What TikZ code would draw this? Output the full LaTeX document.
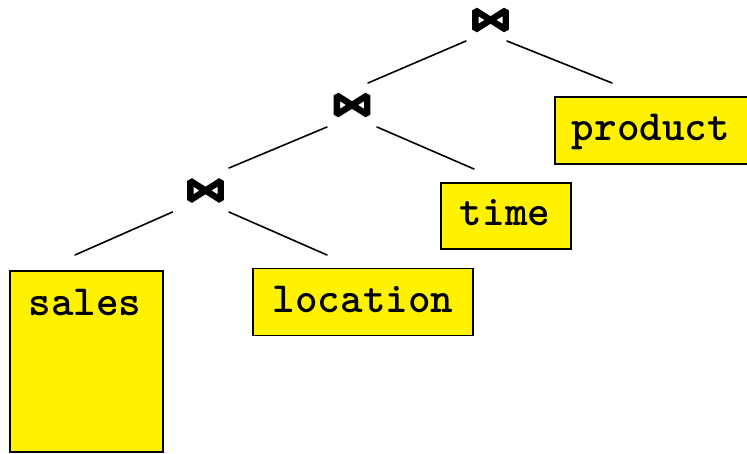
\documentclass[tikz,border=0pt]{standalone}
\usepackage{fontspec}
\begin{document}
\begin{tikzpicture}[x=1pt,y=-1pt,
  relbox/.style={draw=black,line width=1.5pt,fill=yellow,rectangle,inner sep=0pt},
  relname/.style={font=\ttfamily\bfseries\fontsize{43}{43}\selectfont,anchor=base,inner sep=0pt},
  edge/.style={line width=1.6pt,line cap=round},
  bowtie/.pic={\draw[line width=6.4pt,line join=bevel]
      (-15.2,-9.6) -- (15.2,9.6) -- (15.2,-9.6) -- (-15.2,9.6) -- cycle;}]
\useasboundingbox (0,0) rectangle (747,453);

% join operators
\coordinate (j1) at (490.5,20);
\coordinate (j2) at (352,105);
\coordinate (j3) at (205.5,190.5);
\pic at (j1) {bowtie};
\pic at (j2) {bowtie};
\pic at (j3) {bowtie};

% base relations
\node[relbox,minimum width=153pt,minimum height=181pt] (sales) at (86.5,361.5) {};
\node[relbox,minimum width=220pt,minimum height=67pt] (location) at (363,302) {};
\node[relbox,minimum width=130pt,minimum height=66pt] (time) at (506,216) {};
\node[relbox,minimum width=193pt,minimum height=67pt] (product) at (651.5,130.5) {};

\node[relname] (lsales) at (85,315) {sales};
\node[relname] (llocation) at (363,312) {location};
\node[relname] (ltime) at (505,225) {time};
\node[relname] (lproduct) at (651,140) {product};

% tree edges
\draw[edge] ([shift={(-24.5,21)}]j1) -- ([shift={(16,-22)}]j2);
\draw[edge] ([shift={(16.5,21)}]j1) -- ([shift={(-39.5,-47.5)}]product.center);
\draw[edge] ([shift={(-25,22)}]j2) -- ([shift={(23.5,-22.5)}]j3);
\draw[edge] ([shift={(25,22)}]j2) -- ([shift={(-32,-47)}]time.center);
\draw[edge] ([shift={(-33,21.5)}]j3) -- ([shift={(-11.5,-106.5)}]sales.center);
\draw[edge] ([shift={(23.5,21.5)}]j3) -- ([shift={(-36,-47)}]location.center);
\end{tikzpicture}
\end{document}
